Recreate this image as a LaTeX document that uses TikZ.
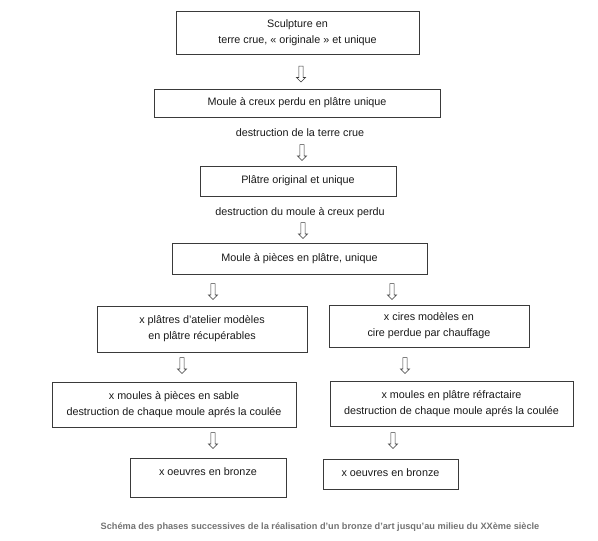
\documentclass[tikz,border=0pt]{standalone}
\usepackage{fontspec}
\setmainfont{Liberation Sans}
\usetikzlibrary{shapes.arrows}
\definecolor{linegray}{HTML}{3A3A3A}
\definecolor{textgray}{HTML}{1A1A1A}
\definecolor{capgray}{HTML}{737373}
\begin{document}
\begin{tikzpicture}[x=1pt,y=1pt,
  box/.style={draw=linegray, line width=0.9pt, inner sep=0pt, align=center,
    text=textgray, font=\fontsize{10.8}{16}\selectfont},
  plain/.style={text=textgray, font=\fontsize{10.8}{16}\selectfont, inner sep=0pt},
  harrow/.style={single arrow, draw=linegray, line width=0.6pt, fill=white,
    shape border rotate=270, minimum height=16pt, minimum width=9pt,
    single arrow head extend=2.5pt, single arrow head indent=0pt, inner sep=1.8pt}]
\useasboundingbox (0,0) rectangle (598,-541);
\fill[white] (0,0) rectangle (598,-541);

% boxes
\node[box, minimum width=243, minimum height=43] (b1) at (297.5,-32.5) {Sculpture en\\terre crue, « originale » et unique};
\node[box, minimum width=286, minimum height=28] (b2) at (297,-103) {Moule à creux perdu en plâtre unique};
\node[plain] (t1) at (300,-133) {destruction de la terre crue};
\node[box, minimum width=196, minimum height=30] (b3) at (298,-181) {Plâtre original et unique};
\node[plain] (t2) at (300,-213) {destruction du moule à creux perdu};
\node[box, minimum width=255, minimum height=31] (b4) at (299.5,-258.5) {Moule à pièces en plâtre, unique};

\node[box, minimum width=210, minimum height=46] (b5l) at (202,-329) {x plâtres d’atelier modèles\\en plâtre récupérables};
\node[box, minimum width=200, minimum height=42] (b5r) at (429,-326) {x cires modèles en\\cire perdue par chauffage};

\node[box, minimum width=244, minimum height=45] (b6l) at (174,-404.5) {x moules à pièces en sable\\destruction de chaque moule aprés la coulée};
\node[box, minimum width=243, minimum height=45] (b6r) at (451.5,-403.5) {x moules en plâtre réfractaire\\destruction de chaque moule aprés la coulée};

\node[box, minimum width=156, minimum height=39,
  label={[plain, anchor=center, yshift=-14pt]north:x oeuvres en bronze}] (b7l) at (208,-477.5) {};
\node[box, minimum width=135, minimum height=30,
  label={[plain, anchor=center, yshift=-14pt]north:x oeuvres en bronze}] (b7r) at (390.5,-474) {};

% hollow arrows
\node[harrow] (a1) at (301,-73) {};
\node[harrow] (a2) at (302,-151.5) {};
\node[harrow] (a3) at (303,-229.5) {};
\node[harrow] (a4l) at (213,-290.5) {};
\node[harrow] (a4r) at (392,-290.5) {};
\node[harrow] (a5l) at (182,-364.5) {};
\node[harrow] (a5r) at (405,-364.5) {};
\node[harrow] (a6l) at (213,-439.5) {};
\node[harrow] (a6r) at (393,-439.5) {};

% caption
\node[text=capgray, font=\fontsize{9.2}{11}\selectfont\bfseries, inner sep=0pt] (cap) at (320,-527)
  {Schéma des phases successives de la réalisation d’un bronze d’art jusqu’au milieu du XXème siècle};
\end{tikzpicture}
\end{document}
